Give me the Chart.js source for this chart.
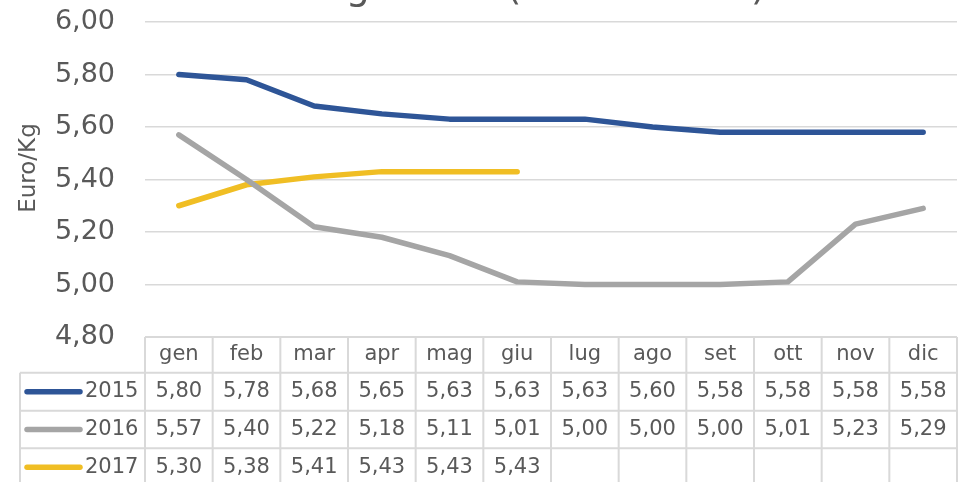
<!DOCTYPE html>
<html>
<head>
<meta charset="utf-8">
<script src="https://cdn.jsdelivr.net/npm/chart.js@4.4.1/dist/chart.umd.min.js"></script>
<style>
html,body{margin:0;padding:0;background:#fff;}
canvas{display:block;}
</style>
</head>
<body>
<canvas id="c" width="960" height="482"></canvas>
<script>
const months = ['gen','feb','mar','apr','mag','giu','lug','ago','set','ott','nov','dic'];
const seriesNames = ['2015','2016','2017'];
const v2015 = [5.80,5.78,5.68,5.65,5.63,5.63,5.63,5.60,5.58,5.58,5.58,5.58];
const v2016 = [5.57,5.40,5.22,5.18,5.11,5.01,5.00,5.00,5.00,5.01,5.23,5.29];
const v2017 = [5.30,5.38,5.41,5.43,5.43,5.43];
const yTicks = [4.80,5.00,5.20,5.40,5.60,5.80,6.00];
const titleText = 'Gorgonzola (dolce fresco)';
const yTitle = 'Euro/Kg';

const colors = ['#2E5597','#A5A5A5','#F0BE24'];
const seriesValues = [v2015, v2016, v2017];
const FONT = '"DejaVu Sans", sans-serif';
const TXT = '#595959';
const GRID = '#D9D9D9';
const fmt = v => v.toFixed(2).replace('.', ',');

const tablePlugin = {
  id: 'tablePlugin',
  afterDraw(chart) {
    const ctx = chart.ctx;
    const xs = chart.scales.x;
    const ca = chart.chartArea;
    ctx.save();
    // title (cut at top)
    ctx.fillStyle = TXT;
    ctx.font = '38px ' + FONT;
    ctx.textAlign = 'center';
    ctx.textBaseline = 'alphabetic';
    ctx.fillText(titleText, 522, -1);
    // y-axis title
    ctx.save();
    ctx.translate(29, 168);
    ctx.rotate(-Math.PI / 2);
    ctx.font = '23px ' + FONT;
    ctx.textAlign = 'center';
    ctx.textBaseline = 'middle';
    ctx.fillText(yTitle, 0, 0);
    ctx.restore();

    // table
    const rowsY = [ca.bottom, 372.7, 410.7, 448.3, 490];
    const leftX = 20;
    const bounds = [];
    for (let i = 0; i <= months.length; i++) bounds.push(xs.getPixelForValue(i - 0.5));
    ctx.strokeStyle = GRID;
    ctx.lineWidth = 2;
    ctx.beginPath();
    ctx.moveTo(bounds[0], rowsY[0]); ctx.lineTo(bounds[12], rowsY[0]);
    for (let r = 1; r < 4; r++) { ctx.moveTo(leftX, rowsY[r]); ctx.lineTo(bounds[12], rowsY[r]); }
    ctx.moveTo(leftX, rowsY[1]); ctx.lineTo(leftX, rowsY[4]);
    for (let i = 0; i <= 12; i++) { ctx.moveTo(bounds[i], rowsY[0]); ctx.lineTo(bounds[i], rowsY[4]); }
    ctx.stroke();

    ctx.font = '21px ' + FONT;
    ctx.fillStyle = TXT;
    ctx.textBaseline = 'middle';
    ctx.textAlign = 'center';
    const hc = (rowsY[0] + rowsY[1]) / 2;
    months.forEach((m, i) => ctx.fillText(m, xs.getPixelForValue(i), hc));
    seriesValues.forEach((arr, s) => {
      const cy = (rowsY[s + 1] + rowsY[s + 2]) / 2 + (s === 2 ? -2 : 0);
      arr.forEach((v, i) => ctx.fillText(fmt(v), xs.getPixelForValue(i), cy));
      // legend swatch
      ctx.save();
      ctx.strokeStyle = colors[s];
      ctx.lineWidth = 5.5;
      ctx.lineCap = 'round';
      ctx.beginPath();
      ctx.moveTo(27, cy); ctx.lineTo(80, cy);
      ctx.stroke();
      ctx.restore();
      ctx.textAlign = 'left';
      ctx.fillText(seriesNames[s], 85, cy);
      ctx.textAlign = 'center';
    });
    ctx.restore();
  }
};

new Chart(document.getElementById('c'), {
  type: 'line',
  data: {
    labels: months,
    datasets: seriesValues.map((arr, s) => ({
      label: seriesNames[s],
      data: arr,
      borderColor: colors[s],
      backgroundColor: colors[s],
      borderWidth: 5.5,
      pointRadius: 0,
      tension: 0,
      borderCapStyle: 'round',
      borderJoinStyle: 'round',
      fill: false
    }))
  },
  options: {
    responsive: false,
    devicePixelRatio: 1,
    animation: false,
    layout: { padding: { left: 0, right: 3, top: 22, bottom: 145 } },
    plugins: { legend: { display: false }, tooltip: { enabled: false }, title: { display: false } },
    scales: {
      x: { type: 'category', offset: true, display: false },
      y: {
        min: 4.8, max: 6.0,
        afterFit(scale) { scale.width = 145; },
        afterBuildTicks(scale) { scale.ticks = yTicks.map(v => ({ value: v })); },
        ticks: {
          stepSize: 0.2,
          padding: 0,
          color: TXT,
          font: { family: FONT, size: 27 },
          callback: v => fmt(v)
        },
        grid: { color: GRID, lineWidth: 1.5, drawTicks: true, tickLength: 30, tickColor: 'rgba(0,0,0,0)' },
        border: { display: false }
      }
    }
  },
  plugins: [tablePlugin]
});
</script>
</body>
</html>
